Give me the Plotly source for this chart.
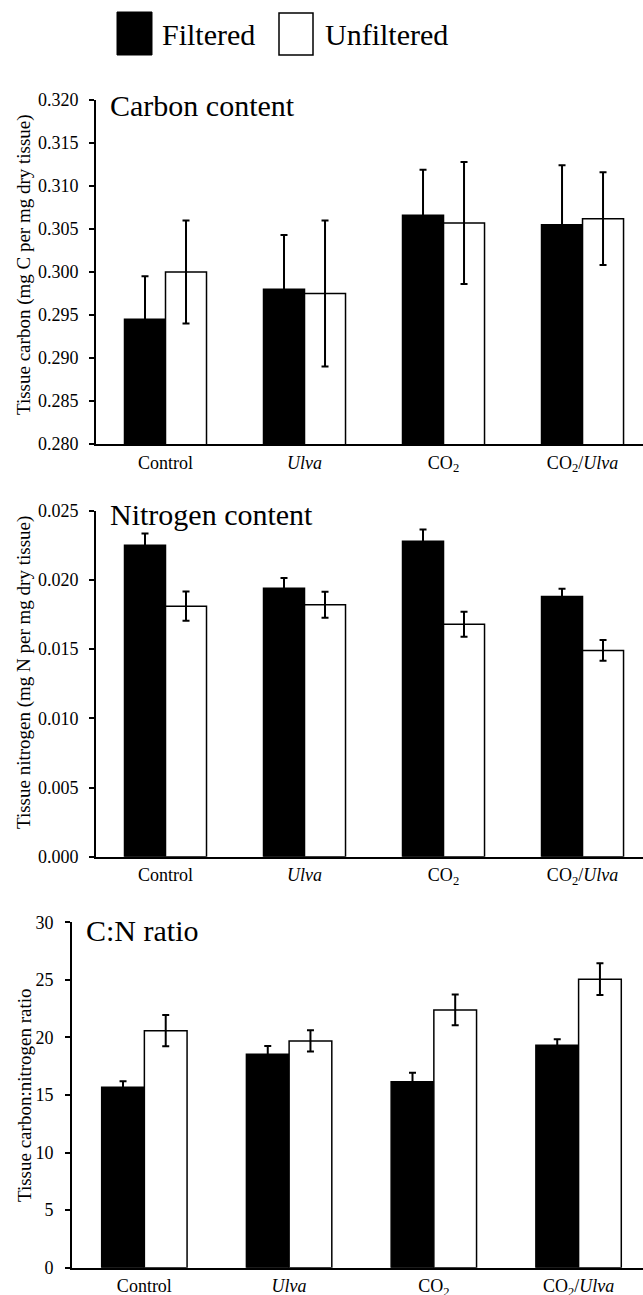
import plotly.graph_objects as go

# ---------------- data ----------------
categories = ["Control", "<i>Ulva</i>", "CO<sub>2</sub>", "CO<sub>2</sub>/<i>Ulva</i>"]
series_names = ["Filtered", "Unfiltered"]

carbon_filtered = [0.2945, 0.2980, 0.3066, 0.3055]
carbon_filtered_se = [0.0050, 0.0063, 0.0053, 0.0069]
carbon_unfiltered = [0.3000, 0.2975, 0.3057, 0.3062]
carbon_unfiltered_se = [0.0060, 0.0085, 0.0071, 0.0054]

nitrogen_filtered = [0.0225, 0.0194, 0.0228, 0.0188]
nitrogen_filtered_se = [0.00085, 0.00074, 0.00085, 0.00056]
nitrogen_unfiltered = [0.0181, 0.0182, 0.0168, 0.0149]
nitrogen_unfiltered_se = [0.00106, 0.00094, 0.00090, 0.00075]

cn_filtered = [15.67, 18.54, 16.16, 19.32]
cn_filtered_se = [0.52, 0.72, 0.78, 0.52]
cn_unfiltered = [20.59, 19.70, 22.39, 25.06]
cn_unfiltered_se = [1.35, 0.93, 1.33, 1.38]

panel_titles = ["Carbon content", "Nitrogen content", "C:N ratio"]
y_titles = ["Tissue carbon (mg C per mg dry tissue)",
            "Tissue nitrogen (mg N per mg dry tissue)",
            "Tissue carbon:nitrogen ratio"]

# ---------------- layout helpers ----------------
W, H = 643, 1295
FONT = "Liberation Serif, Times New Roman, serif"


def px(x):
    return x / W


def py(y):
    return 1 - y / H


fig = go.Figure()

panels = [
    (carbon_filtered, carbon_filtered_se, carbon_unfiltered, carbon_unfiltered_se),
    (nitrogen_filtered, nitrogen_filtered_se, nitrogen_unfiltered, nitrogen_unfiltered_se),
    (cn_filtered, cn_filtered_se, cn_unfiltered, cn_unfiltered_se),
]

for i, (f, fse, u, use) in enumerate(panels):
    xa = "x" if i == 0 else f"x{i+1}"
    ya = "y" if i == 0 else f"y{i+1}"
    fig.add_trace(go.Bar(
        x=categories, y=f, name=series_names[0], xaxis=xa, yaxis=ya,
        marker=dict(color="black", line=dict(color="black", width=1.5)),
        error_y=dict(type="data", array=fse, color="black", thickness=2, width=3.5),
        showlegend=False, offsetgroup="f", hoverinfo="skip"))
    fig.add_trace(go.Bar(
        x=categories, y=u, name=series_names[1], xaxis=xa, yaxis=ya,
        marker=dict(color="white", line=dict(color="black", width=1.5)),
        error_y=dict(type="data", array=use, color="black", thickness=2, width=3.5),
        showlegend=False, offsetgroup="u", hoverinfo="skip"))

# plot-area geometry (pixels)
geo = [
    dict(x0=96, top=100, bottom=444, rng=[0.28, 0.32], dtick=0.005, fmt=".3f", xr=[-0.5, 3.435]),
    dict(x0=96, top=510.7, bottom=856.7, rng=[0, 0.025], dtick=0.005, fmt=".3f", xr=[-0.5, 3.435]),
    dict(x0=72, top=922.3, bottom=1267.7, rng=[0, 30], dtick=5, fmt="d", xr=[-0.5, 3.445]),
]

layout = dict(
    template="none",
    width=W, height=H,
    margin=dict(l=0, r=0, t=0, b=0, pad=0),
    paper_bgcolor="white", plot_bgcolor="white",
    barmode="group", bargap=0.41, bargroupgap=0,
    font=dict(family=FONT, color="black"),
    showlegend=False,
)

for i, g in enumerate(geo):
    xk = "xaxis" if i == 0 else f"xaxis{i+1}"
    yk = "yaxis" if i == 0 else f"yaxis{i+1}"
    yname = "y" if i == 0 else f"y{i+1}"
    xname = "x" if i == 0 else f"x{i+1}"
    layout[xk] = dict(
        domain=[px(g["x0"]), 1], anchor=yname, range=g["xr"], automargin=False,
        showline=True, linecolor="black", linewidth=2,
        ticks="", showgrid=False, zeroline=False,
        tickfont=dict(family=FONT, size=18, color="black"),
        ticklabelstandoff=1,
    )
    layout[yk] = dict(
        domain=[py(g["bottom"]), py(g["top"])], anchor=xname, range=g["rng"], automargin=False,
        dtick=g["dtick"], tick0=0, tickformat=g["fmt"],
        showline=True, linecolor="black", linewidth=2,
        ticks="outside", ticklen=5, tickwidth=2, tickcolor="black",
        showgrid=False, zeroline=False,
        tickfont=dict(family=FONT, size=18, color="black"),
        ticklabelstandoff=7 if i < 2 else 8,
    )

fig.update_layout(**layout)

# panel titles
title_pos = [(108, 105), (108, 514), (84, 930)]
for t, (x, y) in zip(panel_titles, title_pos):
    fig.add_annotation(text=t, x=px(x), y=py(y), xref="paper", yref="paper",
                       xanchor="left", yanchor="middle", showarrow=False,
                       font=dict(family=FONT, size=30, color="black"))

# y-axis titles
ytitle_pos = [265, 673, 1095]
for t, y in zip(y_titles, ytitle_pos):
    fig.add_annotation(text=t, x=px(24), y=py(y), xref="paper", yref="paper",
                       xanchor="center", yanchor="middle", textangle=-90, showarrow=False,
                       font=dict(family=FONT, size=19, color="black"))

# legend (large swatches)
fig.add_shape(type="rect", xref="paper", yref="paper",
              x0=px(117), x1=px(152), y0=py(55), y1=py(12),
              fillcolor="black", line=dict(color="black", width=1))
fig.add_shape(type="rect", xref="paper", yref="paper",
              x0=px(279), x1=px(313), y0=py(55), y1=py(13),
              fillcolor="white", line=dict(color="black", width=1.5))
fig.add_annotation(text=series_names[0], x=px(160), y=py(35), xref="paper", yref="paper",
                   xanchor="left", yanchor="middle", showarrow=False,
                   font=dict(family=FONT, size=30, color="black"))
fig.add_annotation(text=series_names[1], x=px(323), y=py(35), xref="paper", yref="paper",
                   xanchor="left", yanchor="middle", showarrow=False,
                   font=dict(family=FONT, size=30, color="black"))

fig.write_html(
    "out.html",
    config={"displayModeBar": False},
    post_script="document.body.style.margin='0';document.body.style.overflow='hidden';",
)
